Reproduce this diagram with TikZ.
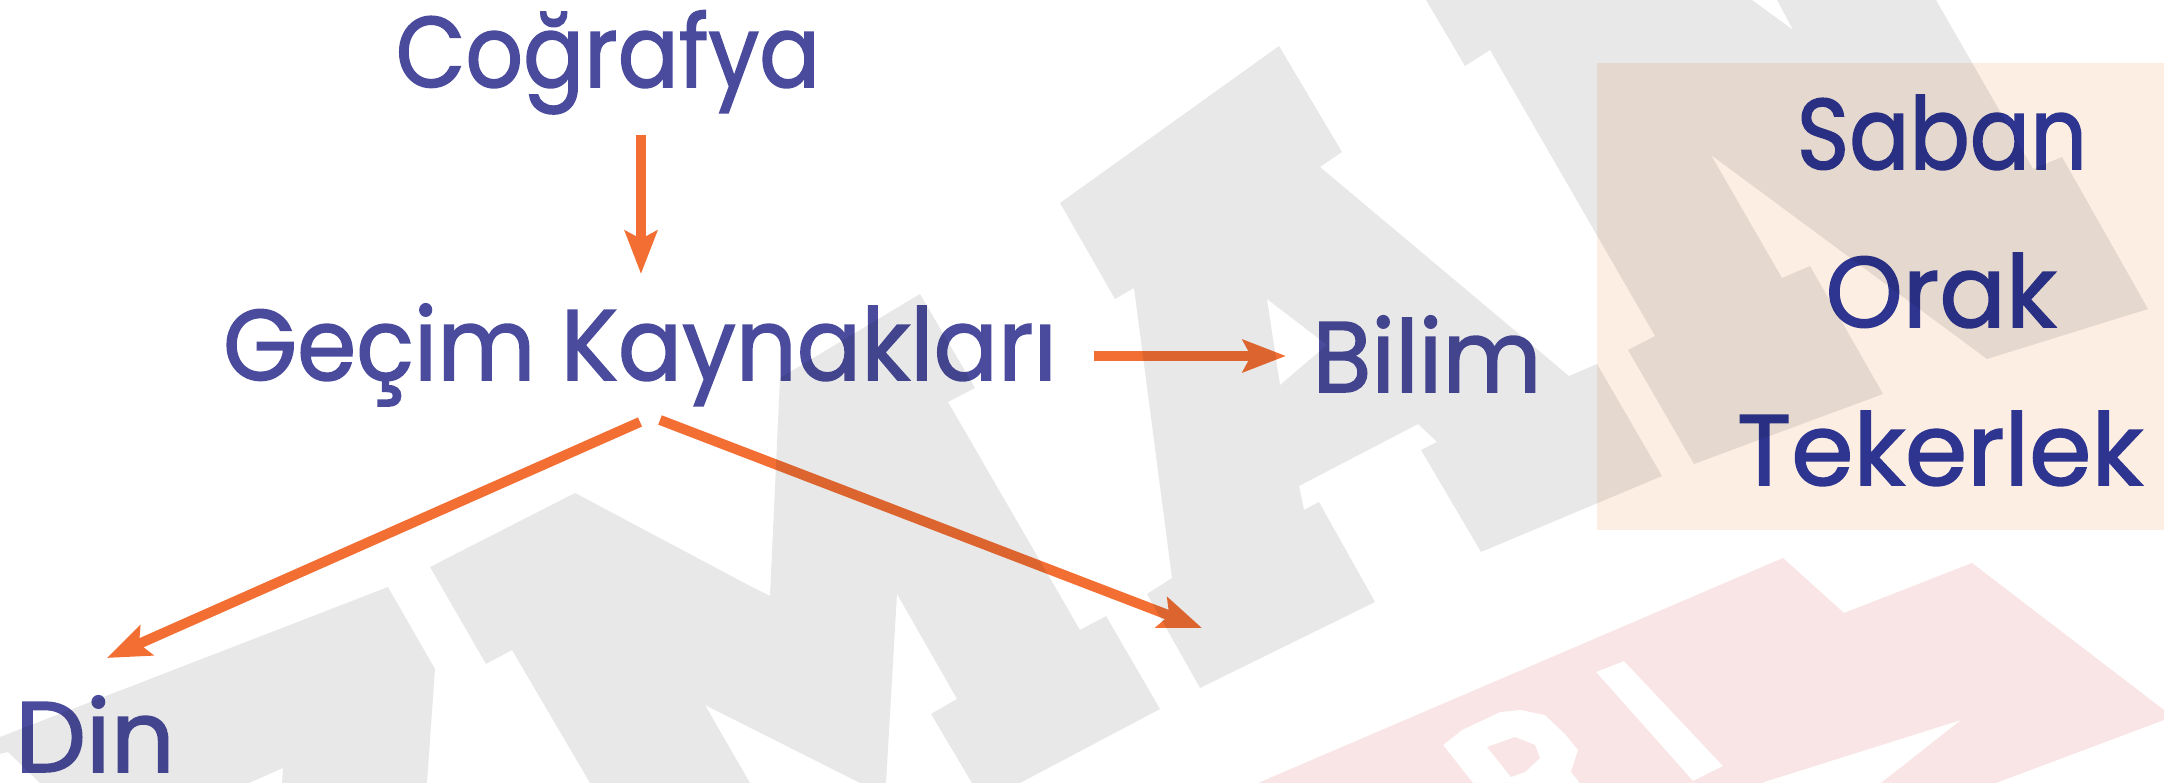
\documentclass[tikz,border=0pt]{standalone}
\usepackage{fontspec}
\setmainfont{Poppins}
\newfontfamily\lblfont{Poppins}[FakeBold=1.6]
\usetikzlibrary{arrows.meta}
\definecolor{textblue}{HTML}{4A4B9D}
\definecolor{boxblue}{HTML}{2E3590}
\definecolor{arrorange}{HTML}{F26E33}
\definecolor{boxpeach}{HTML}{FCEEE3}
\definecolor{markpink}{HTML}{F9E5E5}
\newcommand{\narrow}[2]{\scalebox{#1}[1]{#2}}
\tikzset{
  lbl/.style={font=\lblfont\fontsize{28.5}{34}\selectfont, text=textblue, anchor=base, inner sep=0pt, text depth=0pt},
  boxlbl/.style={lbl, text=boxblue},
  arr/.style={draw=arrorange, line width=1mm, -{Stealth[length=4.3mm, width=3.2mm, inset=0.8mm]}},
}
\begin{document}
\begin{tikzpicture}[x=0.01cm, y=-0.01cm]
  \useasboundingbox (0,0) rectangle (2164,783);

  % Pink part of the watermark
  \fill[markpink, even odd rule]
    (1258,783) -- (1783,558) -- (1844,613) -- (1972,563) -- (2164,710) -- (2164,720) -- (1996,783) -- cycle
    (1596,672) -- (1624,661) -- (1723,766) -- (1693,781) -- cycle
    (1761,783) -- (1961,720) -- (1881,783) -- cycle
    (1443,745) -- (1462,730) -- (1500,712) -- (1521,710) -- (1545,715) -- (1566,735) -- (1578,750) -- (1571,772) -- (1580,783) -- (1473,783) -- cycle
    (1487,747) -- (1515,737) -- (1535,745) -- (1540,758) -- (1525,772) -- (1511,777) -- cycle;

  % Box of tools
  \fill[boxpeach] (1597,63) rectangle (2164,530);

  % Labels
  \node[lbl] (cog) at (608,87) {\narrow{0.9}{Coğrafya}};
  \node[lbl] (gecim) at (640,380) {\narrow{0.95}{Geçim Kaynakları}};
  \node[lbl] (bilim) at (1427,392) {\narrow{0.96}{Bilim}};
  \node[lbl] (din) at (95,772) {Din};
  \node[boxlbl] (saban) at (1942,169) {\narrow{0.89}{Saban}};
  \node[boxlbl] (orak) at (1941,327) {\narrow{0.98}{Orak}};
  \node[boxlbl] (teker) at (1940,485) {Tekerlek};

  % Arrow ends
  \coordinate (cogS) at (641,135);
  \coordinate (gecN) at (641,274);
  \coordinate (gecE) at (1094,356);
  \coordinate (bilW) at (1286,356);
  \coordinate (gecSW) at (640,422);
  \coordinate (dinN) at (107,658);
  \coordinate (gecSE) at (660,420);
  \coordinate (open) at (1202,628);

  % Arrows
  \draw[arr] (cogS) -- (gecN);
  \draw[arr] (gecE) -- (bilW);
  \draw[arr] (gecSW) -- (dinN);
  \draw[arr] (gecSE) -- (open);

  % Grey watermark, laid over everything
  \fill[black, fill opacity=0.09, even odd rule]
    (1060,203) -- (1279,46) -- (1342,152) -- (1320,167) -- (1569,376) -- (1597,364) -- (1662,476) -- (1481,552)
      -- (1421,450) -- (1437,442) -- (1418,424) -- (1299,486) -- (1304,510) -- (1319,502) -- (1375,602)
      -- (1200,688) -- (1147,594) -- (1172,578) -- (1134,288) -- (1115,299) -- cycle
    (1267,299) -- (1327,345) -- (1280,385) -- cycle
    (430,567) -- (575,493) -- (752,587) -- (770,596) -- (780,378) -- (920,294) -- (975,388) -- (948,402)
      -- (1080,630) -- (1106,616) -- (1160,709) -- (1020,783) -- (972,783) -- (931,714) -- (957,699)
      -- (897,594) -- (886,783) -- (860,783) -- (705,705) -- (750,783) -- (590,783) -- (512,650) -- (486,664) -- cycle
    (0,737) -- (388,587) -- (435,669) -- (427,783) -- (282,783) -- (283,768) -- (249,783) -- (40,783) -- (8,752) -- (0,754) -- cycle
    (1426,0) -- (1465,66) -- (1490,50) -- (1655,336) -- (1628,350) -- (1694,464) -- (1883,394) -- (1810,266)
      -- (1782,278) -- (1711,155) -- (1987,359) -- (2148,309) -- (2062,157) -- (2033,169) -- (1936,0)
      -- (1777,0) -- (1793,30) -- (1752,0) -- cycle;
\end{tikzpicture}
\end{document}
